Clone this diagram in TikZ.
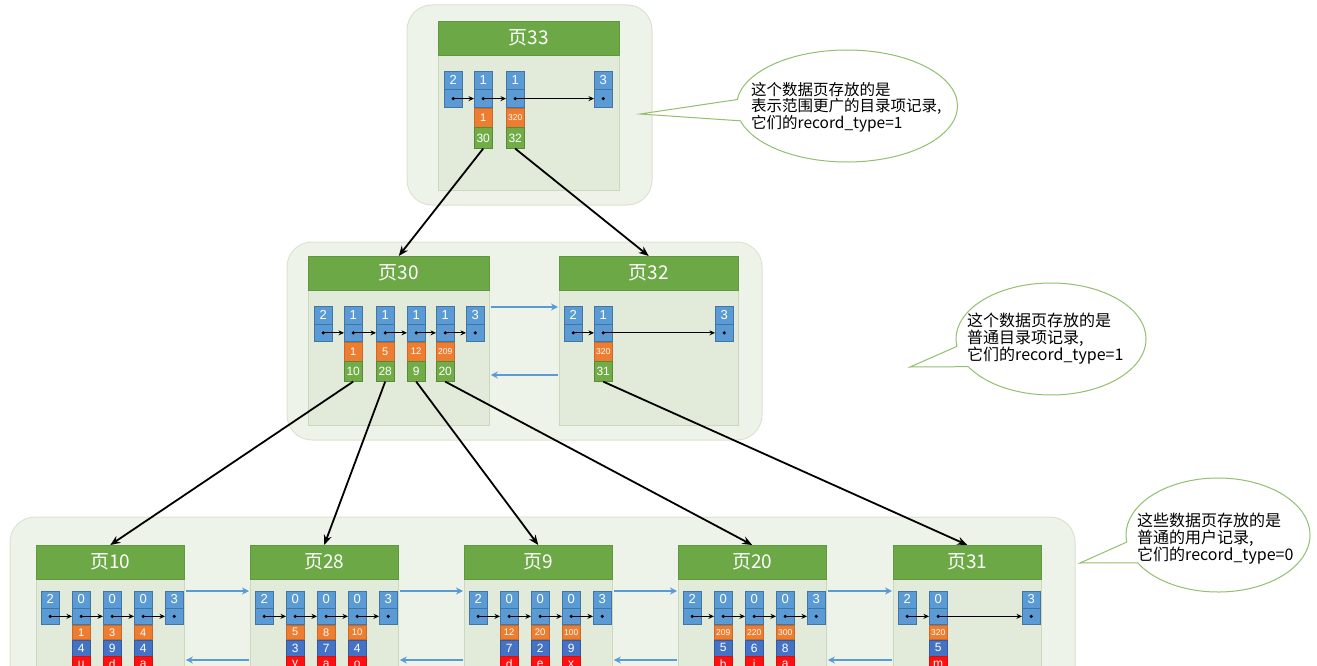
\documentclass[tikz,border=0pt]{standalone}
\usepackage{fontspec}
\setmainfont{Liberation Sans}
\newfontfamily\cjk{Noto Sans CJK SC}
\usetikzlibrary{arrows.meta,shapes.callouts,shapes.geometric}
\definecolor{grpfill}{HTML}{EEF3E9}
\definecolor{grpdraw}{HTML}{D9E4CF}
\definecolor{bodyfill}{HTML}{E2EAD9}
\definecolor{bodydraw}{HTML}{CAD8BE}
\definecolor{headgreen}{HTML}{6CA946}
\definecolor{recblue}{HTML}{5B9BD5}
\definecolor{recorange}{HTML}{ED7D31}
\definecolor{labgreen}{HTML}{70AD47}
\definecolor{darkblue}{HTML}{4472C4}
\definecolor{recred}{HTML}{FF1010}
\definecolor{sibblue}{HTML}{5B9BD5}
\definecolor{callgreen}{HTML}{93BF6E}
\tikzset{
  grp/.style={fill=grpfill, draw=grpdraw, line width=1pt, rounded corners=25pt},
  pbody/.style={fill=bodyfill, draw=bodydraw, line width=0.8pt, inner sep=0pt},
  phead/.style={fill=headgreen, draw=headgreen!90!black, line width=0.5pt, text=white, inner sep=0pt, font=\cjk\fontsize{19}{19}\selectfont},
  cell/.style={text=white, minimum width=18pt, inner sep=0pt, line width=0.4pt},
  bl/.style={cell, fill=recblue, draw=recblue!75!black, font=\fontsize{13}{13}\selectfont},
  org/.style={cell, fill=recorange, draw=recorange!85!black},
  grn/.style={cell, fill=labgreen, draw=labgreen!80!black, font=\fontsize{12}{12}\selectfont},
  dbl/.style={cell, fill=darkblue, draw=darkblue!80!black, font=\fontsize{12}{12}\selectfont},
  red/.style={cell, fill=recred, draw=recred!85!black, font=\fontsize{12}{12}\selectfont},
  fa/.style={font=\fontsize{11}{11}\selectfont},
  fb/.style={font=\fontsize{9.5}{9.5}\selectfont},
  fc/.style={font=\fontsize{8.5}{8.5}\selectfont},
  rp/.style={draw=black, line width=0.9pt, -{Stealth[length=5.5pt,width=5pt]}},
  conn/.style={draw=black, line width=1.8pt, -{Stealth[length=10pt,width=8pt]}},
  sib/.style={draw=sibblue, line width=1.6pt, -{Stealth[length=7pt,width=7pt]}, shorten >=1pt, shorten <=1pt},
  bubble/.style={ellipse callout, draw=callgreen, fill=white, line width=1pt, callout pointer arc=22},
  btext/.style={anchor=west, align=left, inner sep=0pt, text=black}
}
\newcommand\mkrec[5]{%
  \node[bl, anchor=north west, minimum height=#5pt] (#1t) at (#2,#3) {#4};
  \node[bl, anchor=north, minimum height=#5pt] (#1b) at (#1t.south) {};
  \fill (#1b.center) circle (1.7pt);
}
\newcommand\reclab[5]{%
  \node[#3, anchor=north, minimum height=#4pt] (#1) at (#2.south) {#5};
}
\newcommand\leafrec[6]{%
  \mkrec{#1}{#2}{591}{0}{16.5}
  \reclab{#1o}{#1b}{org,#4}{14.5}{#3}
  \reclab{#1d}{#1o}{dbl}{16}{#5}
  \reclab{#1r}{#1d}{red}{16}{#6}
}
\newcommand\mkpage[6]{%
  \node[pbody, anchor=north west, minimum width=#4pt, minimum height=#5pt] (#1) at (#2,#3+34) {};
  \node[phead, anchor=north west, minimum width=#4pt, minimum height=34pt] (#1h) at (#2,#3) {#6};
}
\begin{document}
\begin{tikzpicture}[x=1pt,y=-1pt]
\useasboundingbox (0,0) rectangle (1317,666);
% groups
\draw[grp] (407,5) rectangle (652,205);
\draw[grp] (287,242) rectangle (762,440);
\draw[grp] (10,517) rectangle (1075,740);
% pages
\mkpage{P33}{438}{21}{181}{135}{页33}
\mkpage{P30}{308}{256}{181}{135}{页30}
\mkpage{P32}{559}{256}{179}{135}{页32}
\mkpage{P10}{36}{545}{148}{170}{页10}
\mkpage{P28}{250}{545}{148}{170}{页28}
\mkpage{P9}{464}{545}{148}{170}{页9}
\mkpage{P20}{678}{545}{148}{170}{页20}
\mkpage{P31}{893}{545}{148}{170}{页31}
% page 33 records
\mkrec{a1}{444}{71}{2}{18}
\mkrec{a2}{474}{71}{1}{18}
\reclab{a2o}{a2b}{org,fa}{19}{1}
\reclab{a2g}{a2o}{grn}{21}{30}
\mkrec{a3}{506}{71}{1}{18}
\reclab{a3o}{a3b}{org,fc}{19}{320}
\reclab{a3g}{a3o}{grn}{21}{32}
\mkrec{a4}{594}{71}{3}{18}
\draw[rp] (a1b.center) -- (a2b.west);
\draw[rp] (a2b.center) -- (a3b.west);
\draw[rp] (a3b.center) -- (a4b.west);
% page 30 records
\mkrec{b1}{314}{306}{2}{17.5}
\mkrec{b2}{344}{306}{1}{17.5}
\reclab{b2o}{b2b}{org,fa}{19}{1}
\reclab{b2g}{b2o}{grn}{20}{10}
\mkrec{b3}{376}{306}{1}{17.5}
\reclab{b3o}{b3b}{org,fa}{19}{5}
\reclab{b3g}{b3o}{grn}{20}{28}
\mkrec{b4}{407}{306}{1}{17.5}
\reclab{b4o}{b4b}{org,fb}{19}{12}
\reclab{b4g}{b4o}{grn}{20}{9}
\mkrec{b5}{436}{306}{1}{17.5}
\reclab{b5o}{b5b}{org,fc}{19}{209}
\reclab{b5g}{b5o}{grn}{20}{20}
\mkrec{b6}{466}{306}{3}{17.5}
\draw[rp] (b1b.center) -- (b2b.west);
\draw[rp] (b2b.center) -- (b3b.west);
\draw[rp] (b3b.center) -- (b4b.west);
\draw[rp] (b4b.center) -- (b5b.west);
\draw[rp] (b5b.center) -- (b6b.west);
% page 32 records
\mkrec{c1}{564}{306}{2}{17.5}
\mkrec{c2}{594}{306}{1}{17.5}
\reclab{c2o}{c2b}{org,fc}{19}{320}
\reclab{c2g}{c2o}{grn}{20}{31}
\mkrec{c3}{715}{306}{3}{17.5}
\draw[rp] (c1b.center) -- (c2b.west);
\draw[rp] (c2b.center) -- (c3b.west);
% page 10
\mkrec{d1}{41}{591}{2}{16.5}
\leafrec{d2}{72}{1}{fa}{4}{u}
\leafrec{d3}{103}{3}{fa}{9}{d}
\leafrec{d4}{134}{4}{fa}{4}{a}
\mkrec{d5}{165}{591}{3}{16.5}
% page 28
\mkrec{e1}{255}{591}{2}{16.5}
\leafrec{e2}{286}{5}{fa}{3}{y}
\leafrec{e3}{317}{8}{fa}{7}{a}
\leafrec{e4}{348}{10}{fb}{4}{o}
\mkrec{e5}{379}{591}{3}{16.5}
% page 9
\mkrec{f1}{469}{591}{2}{16.5}
\leafrec{f2}{500}{12}{fb}{7}{d}
\leafrec{f3}{531}{20}{fb}{2}{e}
\leafrec{f4}{562}{100}{fc}{9}{x}
\mkrec{f5}{593}{591}{3}{16.5}
% page 20
\mkrec{g1}{683}{591}{2}{16.5}
\leafrec{g2}{714}{209}{fc}{5}{b}
\leafrec{g3}{745}{220}{fc}{6}{i}
\leafrec{g4}{776}{300}{fc}{8}{a}
\mkrec{g5}{807}{591}{3}{16.5}
% page 31
\mkrec{h1}{898}{591}{2}{16.5}
\leafrec{h2}{929}{320}{fc}{5}{m}
\mkrec{h3}{1022}{591}{3}{16.5}
\foreach \p in {d,e,f,g}{
  \draw[rp] (\p1b.center) -- (\p2b.west);
  \draw[rp] (\p2b.center) -- (\p3b.west);
  \draw[rp] (\p3b.center) -- (\p4b.west);
  \draw[rp] (\p4b.center) -- (\p5b.west);
}
\draw[rp] (h1b.center) -- (h2b.west);
\draw[rp] (h2b.center) -- (h3b.west);
% sibling links
\draw[sib] ([yshift=-17pt]P30.north east) -- ([yshift=-17pt]P32.north west);
\draw[sib] ([yshift=-85pt]P32.north west) -- ([yshift=-85pt]P30.north east);
\foreach \l/\r in {P10/P28,P28/P9,P9/P20,P20/P31}{
  \draw[sib] ([yshift=-12pt]\l.north east) -- ([yshift=-12pt]\r.north west);
  \draw[sib] ([yshift=-81pt]\r.north west) -- ([yshift=-81pt]\l.north east);
}
% tree connectors
\draw[conn] (a2g.south) -- (P30h.north);
\draw[conn] (a3g.south) -- (P32h.north);
\draw[conn] (b2g.south) -- (P10h.north);
\draw[conn] (b3g.south) -- (P28h.north);
\draw[conn] (b4g.south) -- (P9h.north);
\draw[conn] (b5g.south) -- (P20h.north);
\draw[conn] (c2g.south) -- (P31h.north);
% callouts
\coordinate (tip1) at (640,114);
\coordinate (tip2) at (910,367);
\coordinate (tip3) at (1080,563);
\node[bubble, minimum width=221pt, minimum height=112pt, callout absolute pointer={(tip1)}] (k1) at (847,106) {};
\node[btext, font=\cjk\fontsize{15.5}{16.5}\selectfont] (k1t) at (751,107) {这个数据页存放的是\\表示范围更广的目录项记录,\\它们的record\_type=1};
\node[bubble, minimum width=190pt, minimum height=112pt, callout absolute pointer={(tip2)}] (k2) at (1051,339) {};
\node[btext, font=\cjk\fontsize{16}{17}\selectfont] (k2t) at (967,339) {这个数据页存放的是\\普通目录项记录,\\它们的record\_type=1};
\node[bubble, minimum width=184pt, minimum height=114pt, callout absolute pointer={(tip3)}] (k3) at (1218,535) {};
\node[btext, font=\cjk\fontsize{16}{17}\selectfont] (k3t) at (1137,539) {这些数据页存放的是\\普通的用户记录,\\它们的record\_type=0};
\end{tikzpicture}
\end{document}
